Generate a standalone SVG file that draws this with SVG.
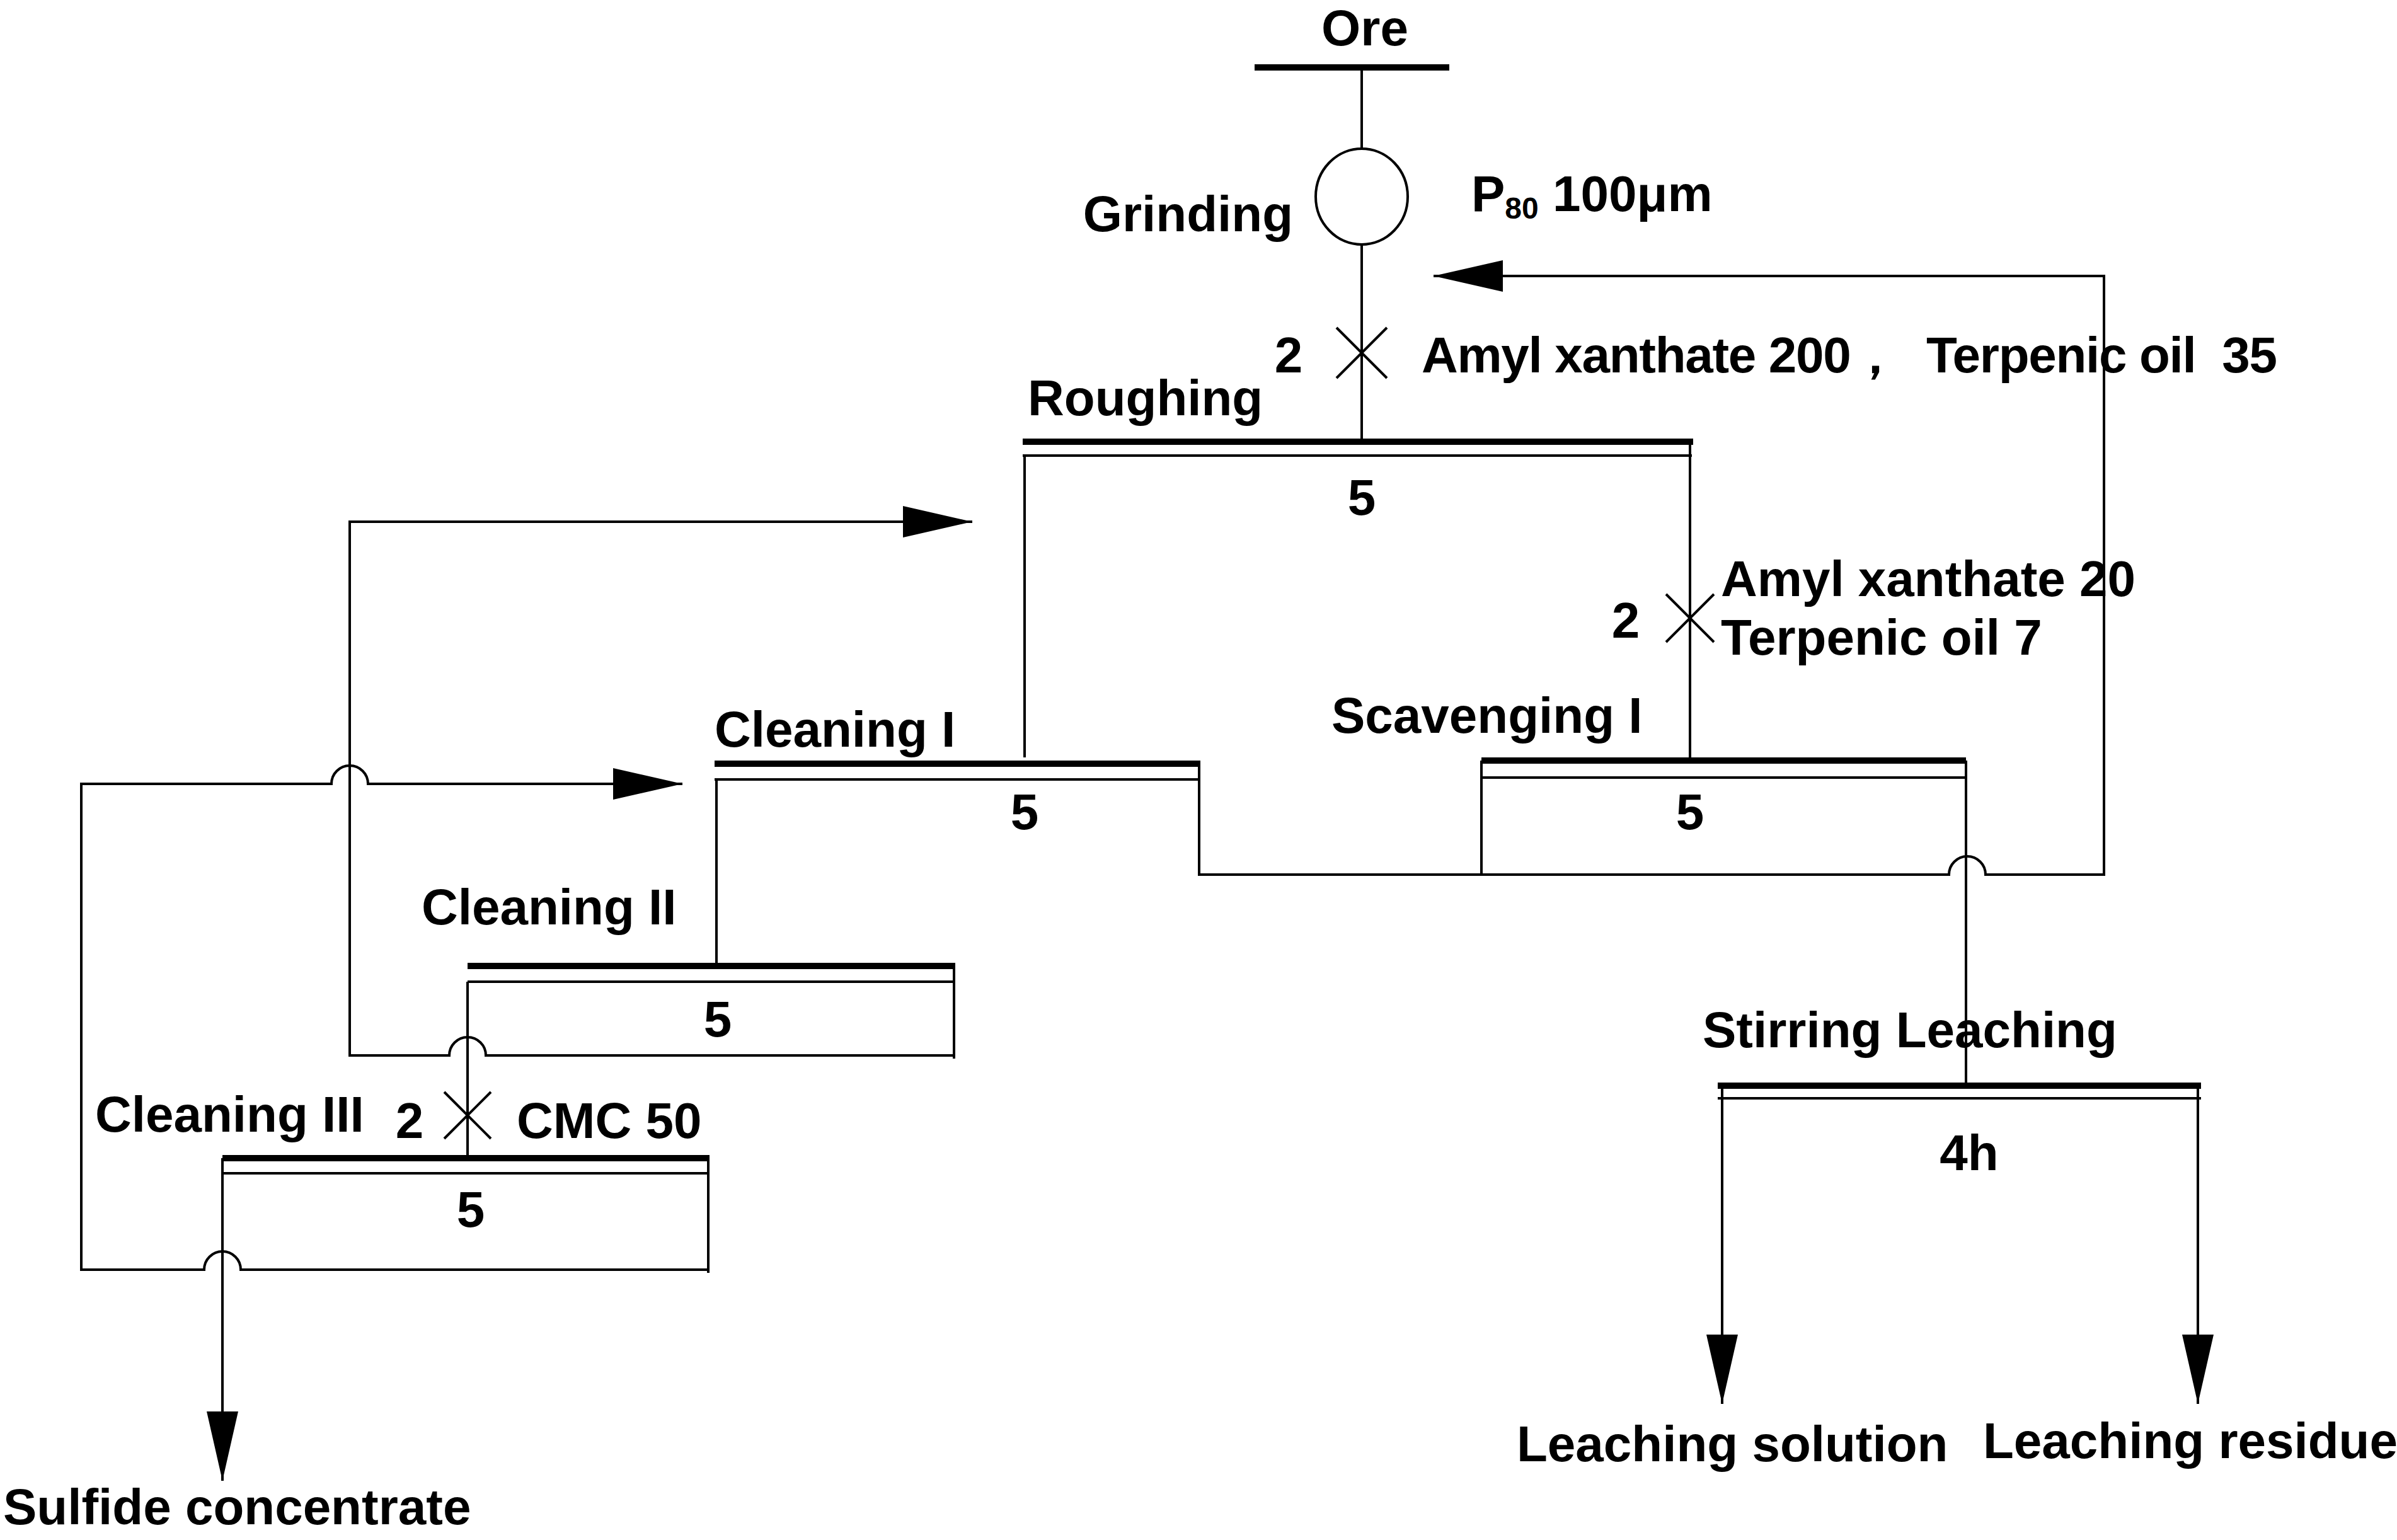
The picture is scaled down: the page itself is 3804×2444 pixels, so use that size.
<svg xmlns="http://www.w3.org/2000/svg" width="3804" height="2444" viewBox="0 0 3804 2444">
<style>
text{font-family:"Liberation Sans",Arial,sans-serif;font-weight:bold;font-size:80px;fill:#000;white-space:pre}
.l{fill:none;stroke:#000;stroke-width:4}
.b{stroke:#000;stroke-width:10}
.t{stroke:#000;stroke-width:4}
</style>
<defs>
<marker id="m" viewBox="0 0 10 8" refX="10" refY="4" markerWidth="110" markerHeight="50" orient="auto" markerUnits="userSpaceOnUse" preserveAspectRatio="none"><path d="M0,0L10,4L0,8z"/></marker></defs>
<g id="ore"><line x1="1991" y1="107" x2="2300" y2="107" class="b" stroke-width="8"/><text x="2166" y="72" text-anchor="middle">Ore</text></g>
<g id="grinding"><ellipse cx="2161" cy="312" rx="73" ry="76" class="l"/><text x="2052" y="367" text-anchor="end">Grinding</text><text x="2335" y="335">P<tspan font-size="48" dy="12">80</tspan><tspan dy="-12"> 100μm</tspan></text></g>
<g id="roughing"><line x1="1623" y1="701" x2="2687" y2="701" class="b"/><line x1="1623" y1="723" x2="2685" y2="723" class="t"/><text x="1631" y="659">Roughing</text><text x="2161" y="817" text-anchor="middle">5</text>
<path d="M2121,520L2201,600M2201,520L2121,600" class="l" stroke-width="3"/><text x="2045" y="591" text-anchor="middle">2</text><text x="2256" y="591" xml:space="preserve" textLength="1358" lengthAdjust="spacing">Amyl xanthate 200，  Terpenic oil  35</text></g>
<g id="scavenging"><line x1="2351" y1="1207" x2="3120" y2="1207" class="b"/><line x1="2351" y1="1234" x2="3120" y2="1234" class="t"/><text x="2113" y="1163">Scavenging I</text><text x="2682" y="1316" text-anchor="middle">5</text>
<path d="M2644,943L2720,1019M2720,943L2644,1019" class="l" stroke-width="3"/><text x="2580" y="1012" text-anchor="middle">2</text><text x="2731" y="946">Amyl xanthate 20</text><text x="2731" y="1039">Terpenic oil 7</text></g>
<g id="cleaning1"><line x1="1134" y1="1212" x2="1905" y2="1212" class="b"/><line x1="1134" y1="1237" x2="1903" y2="1237" class="t"/><text x="1134" y="1185">Cleaning I</text><text x="1626" y="1316" text-anchor="middle">5</text></g>
<g id="cleaning2"><line x1="742" y1="1533" x2="1516" y2="1533" class="b"/><line x1="742" y1="1558" x2="1514" y2="1558" class="t"/><text x="669" y="1467">Cleaning II</text><text x="1139" y="1645" text-anchor="middle">5</text></g>
<g id="cleaning3"><line x1="353" y1="1838" x2="1126" y2="1838" class="b"/><line x1="353" y1="1862" x2="1124" y2="1862" class="t"/><text x="151" y="1796">Cleaning III</text><text x="747" y="1947" text-anchor="middle">5</text>
<path d="M705,1733L779,1807M779,1733L705,1807" class="l" stroke-width="3"/><text x="650" y="1806" text-anchor="middle">2</text><text x="820" y="1806">CMC 50</text></g>
<g id="leaching"><line x1="2726" y1="1723" x2="3493" y2="1723" class="b"/><line x1="2726" y1="1743" x2="3493" y2="1743" class="t"/><text x="2702" y="1662">Stirring Leaching</text><text x="3125" y="1857" text-anchor="middle">4h</text></g>
<g id="products"><text x="5" y="2419">Sulfide concentrate</text><text x="2407" y="2319">Leaching solution</text><text x="3147" y="2314">Leaching residue</text></g>
<g id="connectors" class="l">
<path d="M2161,107V236M2161,388V701"/>
<path d="M1626,723V1202M2682,701V1207M2351,1207V1390M1903,1212V1390"/>
<path d="M1903,1388H3093A29,29 0 0 1 3151,1388H3339V438H2275" marker-end="url(#m)"/>
<path d="M3120,1207V1723"/>
<path d="M1137,1237V1529M742,1558V1838M1514,1533V1680M1124,1838V2020"/>
<path d="M1514,1675H771A29,29 0 0 0 713,1675H555V828H1543" marker-end="url(#m)"/>
<path d="M1124,2015H382A29,29 0 0 0 324,2015H129V1244H526A29,29 0 0 1 584,1244H1083" marker-end="url(#m)"/>
<path d="M353,1838V2350" marker-end="url(#m)"/>
<path d="M2733,1723V2228" marker-end="url(#m)"/>
<path d="M3488,1723V2228" marker-end="url(#m)"/>
</g>
</svg>
